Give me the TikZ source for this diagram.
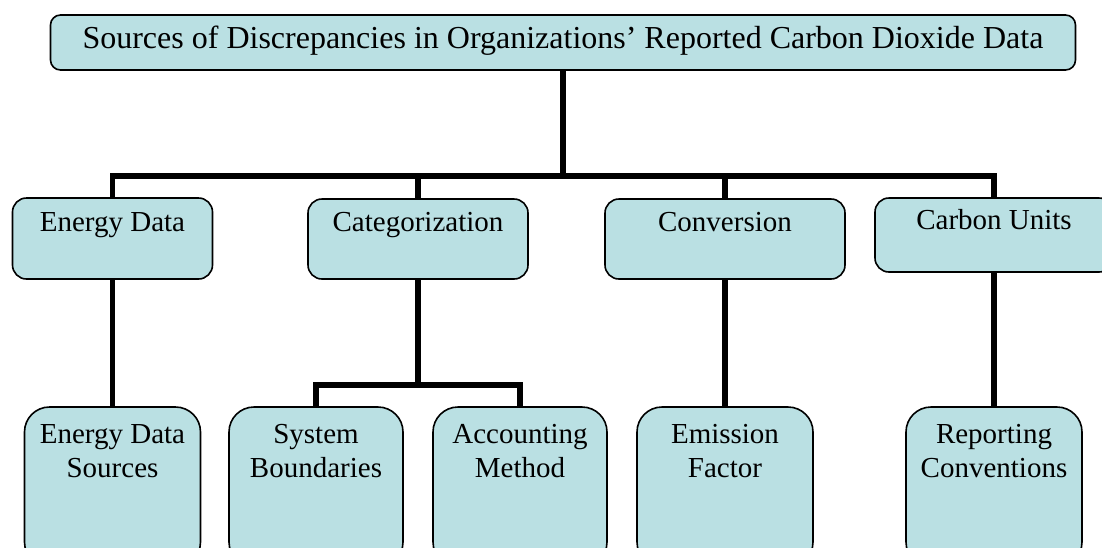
\documentclass[tikz,border=0pt]{standalone}
\usepackage{fontspec}
\setmainfont{Liberation Serif}
\definecolor{boxfill}{RGB}{186,224,227}
\begin{document}
\begin{tikzpicture}[x=1pt,y=-1pt,
  box/.style={draw=black, line width=1.6pt, fill=boxfill, inner sep=0pt, outer sep=0pt},
  topbox/.style={box, rounded corners=10pt, minimum width=1025pt, minimum height=55pt},
  midbox/.style={box, rounded corners=14pt, minimum height=80pt},
  lowbox/.style={box, rounded corners=25pt, minimum width=176pt, minimum height=160pt},
  lbl/.style={inner sep=0pt, anchor=base, font=\fontsize{29}{34}\selectfont},
  conn/.style={draw=black, line width=5.5pt, line join=miter}]
\clip (0,0) rectangle (1102,547);
% boxes
\node[topbox] (top) at (563,42.5) {};
\node[midbox, minimum width=200pt, minimum height=81pt] (ed) at (112.5,238.5) {};
\node[midbox, minimum width=220pt] (cat) at (418,239) {};
\node[midbox, minimum width=240pt] (conv) at (725,239) {};
\node[midbox, minimum width=238pt, minimum height=74pt] (cu) at (994,235) {};
\node[lowbox] (eds) at (112.5,487) {};
\node[lowbox, minimum width=174pt] (sb) at (316,487) {};
\node[lowbox, minimum width=174pt] (am) at (520,487) {};
\node[lowbox] (ef) at (725,487) {};
\node[lowbox] (rc) at (994,487) {};
% labels
\node[lbl, font=\fontsize{32}{36}\selectfont] (ttop) at (563,48.5) {Sources of Discrepancies in Organizations’ Reported Carbon Dioxide Data};
\node[lbl] (ted) at (112.5,231) {Energy Data};
\node[lbl] (tcat) at (418,231) {Categorization};
\node[lbl] (tconv) at (725,231) {Conversion};
\node[lbl] (tcu) at (994,229) {Carbon Units};
\node[lbl] (teds1) at (112.5,443) {Energy Data};
\node[lbl] (teds2) at (112.5,477) {Sources};
\node[lbl] (tsb1) at (316,443) {System};
\node[lbl] (tsb2) at (316,477) {Boundaries};
\node[lbl] (tam1) at (520,443) {Accounting};
\node[lbl] (tam2) at (520,477) {Method};
\node[lbl] (tef1) at (725,443) {Emission};
\node[lbl] (tef2) at (725,477) {Factor};
\node[lbl] (trc1) at (994,443) {Reporting};
\node[lbl] (trc2) at (994,477) {Conventions};
% connectors
\coordinate (bar) at (563,176);
\coordinate (sub) at (418,385);
\draw[conn] (top.south) -- (bar);
\draw[conn] (ed.north) -- (ed.north |- bar) -- (cu.north |- bar) -- (cu.north);
\draw[conn] (cat.north) -- (cat.north |- bar);
\draw[conn] (conv.north) -- (conv.north |- bar);
\draw[conn] (ed) -- (eds);
\draw[conn] (cat.south) -- (sub);
\draw[conn] (sb.north) -- (sb.north |- sub) -- (am.north |- sub) -- (am.north);
\draw[conn] (conv) -- (ef);
\draw[conn] (cu) -- (rc);
\end{tikzpicture}
\end{document}
